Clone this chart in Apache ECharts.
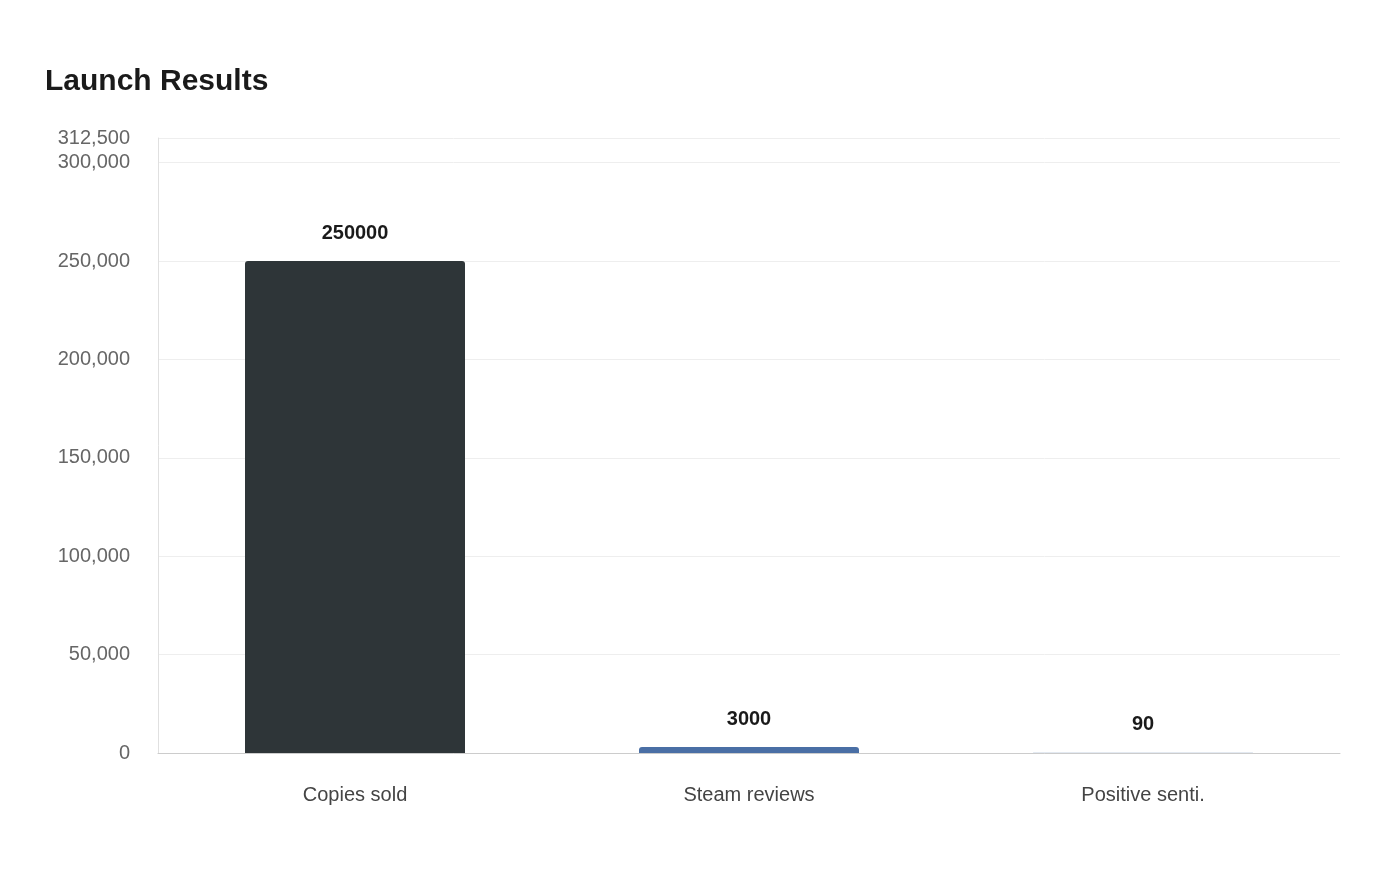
<!DOCTYPE html>
<html><head><meta charset="utf-8">
<script src="https://cdn.jsdelivr.net/npm/echarts@6/dist/echarts.min.js"></script>
<style>html,body{margin:0;padding:0;background:#fff}#c{width:1400px;height:880px}</style>
</head><body><div id="c"></div>
<script>
const categories = ["Copies sold", "Steam reviews", "Positive senti."];
const values = [250000, 3000, 90];
const barColors = ["#2e3538", "#4a6fa5", "#8fa8c8"];
const chart = echarts.init(document.getElementById('c'));
chart.setOption({
  animation: false,
  title: {text: "Launch Results", left: 40, top: 62, textStyle: {fontFamily: "Liberation Sans, Arial", fontSize: 30, fontWeight: "bold", color: "#1a1a1a"}},
  grid: {left: 158, right: 60, top: 138, bottom: 127},
  xAxis: {type: "category", data: categories,
    axisLine: {lineStyle: {color: "#cccccc"}}, axisTick: {show: false},
    axisLabel: {fontFamily: "Liberation Sans, Arial", fontSize: 20, color: "#444", margin: 32}},
  yAxis: {type: "value", min: 0, max: 312500, interval: 50000,
    axisLine: {show: true, lineStyle: {color: "#e0e0e0"}},
    splitLine: {lineStyle: {color: "#eeeeee"}},
    axisLabel: {fontFamily: "Liberation Sans, Arial", fontSize: 20, color: "#666", margin: 28, showMaxLabel: true,
      formatter: v => v.toLocaleString('en-US')}},
  series: [{type: "bar", barWidth: 220,
    data: values.map((v, i) => ({value: v, itemStyle: {color: barColors[i], borderRadius: [3,3,0,0]}})),
    label: {show: true, position: "top", distance: 18, fontFamily: "Liberation Sans, Arial", fontSize: 20, fontWeight: "bold", color: "#1a1a1a"}}]
});
</script></body></html>
